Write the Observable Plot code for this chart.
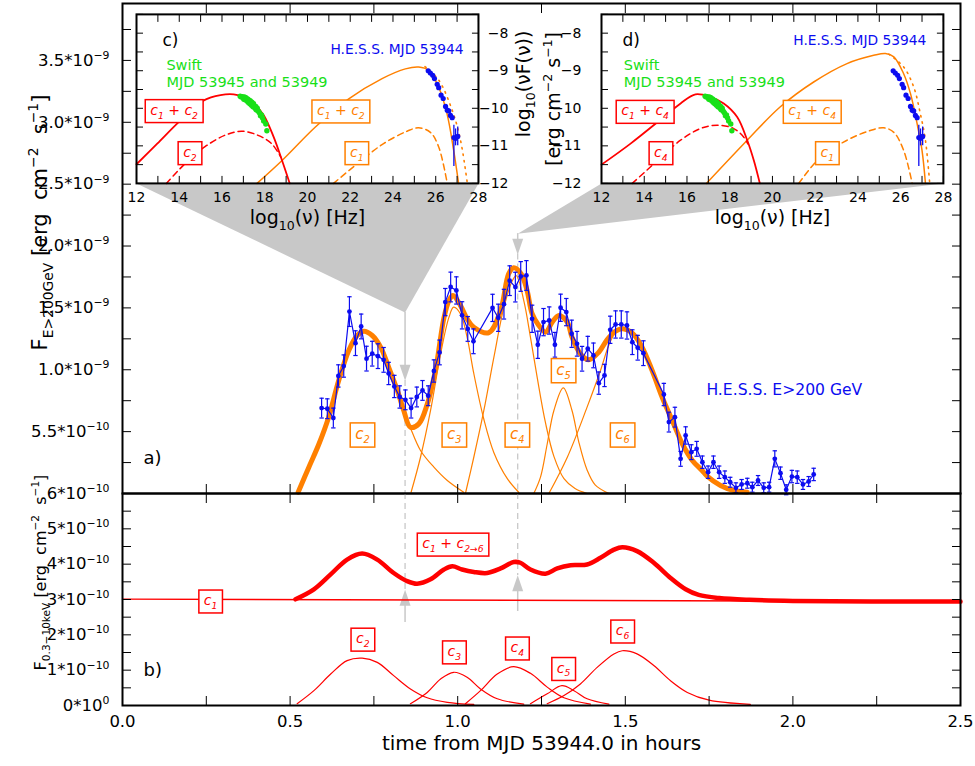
<!DOCTYPE html>
<html><head><meta charset="utf-8">
<script src="https://cdn.jsdelivr.net/npm/d3@7"></script>
<script src="https://cdn.jsdelivr.net/npm/@observablehq/plot@0.6"></script>
<style>
body{margin:0;background:#fff;}
#root{position:relative;width:975px;height:766px;overflow:hidden;background:#fff;}
</style></head><body><div id="root"></div>
<script>
// ---------------- colours & fonts ----------------
const BLUE = "#0c0cf0", ORANGE = "#ff8000", RED = "#ff0000", GREEN = "#18e018", GRAY = "#c8c8c8";
const STYLE = "background:transparent;overflow:visible;font-family:'DejaVu Sans',sans-serif;font-size:16px;color:black;";
const BOX = "\u2063"; // marks a label that gets a frame box
const SP = "\u00a0";

// ---------------- axis ticks ----------------
const timeTicks = [0, 0.25, 0.5, 0.75, 1, 1.25, 1.5, 1.75, 2, 2.25, 2.5];
const timeLabelValues = [0, 0.5, 1, 1.5, 2, 2.5];
const timeLabels = ["0.0", "0.5", "1.0", "1.5", "2.0", "2.5"];
const aFluxTicks = [0, 0.25e-9, 0.5e-9, 0.75e-9, 1e-9, 1.25e-9, 1.5e-9, 1.75e-9, 2e-9, 2.25e-9, 2.5e-9, 2.75e-9, 3e-9, 3.25e-9, 3.5e-9, 3.75e-9];
const aFluxLabelValues = [0.5e-9, 1e-9, 1.5e-9, 2e-9, 2.5e-9, 3e-9, 3.5e-9];
const aFluxLabels = ["5.5*10^{−10}", "1.0*10^{−9}", "1.5*10^{−9}", "2.0*10^{−9}", "2.5*10^{−9}", "3.0*10^{−9}", "3.5*10^{−9}"];
const bFluxTicks = [0, 0.5e-10, 1e-10, 1.5e-10, 2e-10, 2.5e-10, 3e-10, 3.5e-10, 4e-10, 4.5e-10, 5e-10, 5.5e-10, 6e-10];
const bFluxLabelValues = [0, 1e-10, 2e-10, 3e-10, 4e-10, 5e-10, 6e-10];
const bFluxLabels = ["0*10^{0}", "1*10^{−10}", "2*10^{−10}", "3*10^{−10}", "4*10^{−10}", "5*10^{−10}", "6*10^{−10}"];
const nuTicks = [12, 13, 14, 15, 16, 17, 18, 19, 20, 21, 22, 23, 24, 25, 26, 27, 28];
const nuLabelValues = [12, 14, 16, 18, 20, 22, 24, 26, 28];
const sedTicks = [-12, -11.5, -11, -10.5, -10, -9.5, -9, -8.5, -8, -7.5];
const sedLabelValues = [-12, -11, -10, -9, -8];
const sedLabels = ["−12", "−11", "−10", "−9", "−8"];

// ---------------- panel a: H.E.S.S. E>200 GeV light curve (hours, 1e-9 erg cm^-2 s^-1) ----------------
const hessTime = [0.594,0.611,0.629,0.644,0.660,0.677,0.695,0.712,0.728,0.745,0.762,
  0.779,0.794,0.811,0.827,0.844,0.861,0.878,0.895,0.912,
  0.929,0.946,0.963,0.979,0.996,1.013,1.030,1.047,
  1.104,1.121,1.138,1.155,1.172,1.188,1.205,1.222,1.239,1.256,1.273,1.290,1.307,1.324,
  1.340,1.356,1.371,1.388,1.405,1.421,1.438,1.455,1.471,1.488,1.505,1.521,1.537,1.554,
  1.615,1.630,1.648,1.665,1.680,1.697,1.713,1.730,1.747,1.763,1.780,1.797,1.813,1.830,1.847,1.864,1.879,1.896,1.913,1.929,1.946,1.963,1.980,1.997,2.013,2.030,2.047,2.062];
const hessFlux = [0.69,0.685,0.61,0.95,1.03,1.47,1.215,1.35,1.09,1.13,1.11,
  1.08,0.97,0.865,0.78,0.757,0.69,0.78,0.833,0.79,
  0.99,1.14,1.547,1.669,1.641,1.44,1.33,1.23,
  1.50,1.42,1.53,1.72,1.668,1.754,1.762,1.412,1.202,1.385,1.398,1.202,1.501,1.466,
  1.291,1.21,1.089,1.17,1.116,0.892,0.954,1.323,1.366,1.366,1.358,1.223,1.178,1.134,
  0.80,0.577,0.617,0.280,0.469,0.334,0.361,0.253,0.172,0.253,0.172,0.132,0.091,0.046,0.073,0.083,0.051,0.105,0.046,0.051,0.280,0.164,0.030,0.137,0.132,0.073,0.097,0.154];
const hessErr = [0.08,0.08,0.08,0.09,0.09,0.12,0.10,0.10,0.10,0.10,0.10,
  0.10,0.09,0.09,0.09,0.08,0.08,0.08,0.08,0.08,
  0.09,0.10,0.11,0.12,0.11,0.11,0.10,0.10,
  0.11,0.11,0.12,0.12,0.12,0.12,0.12,0.11,0.11,0.11,0.11,0.10,0.11,0.11,
  0.11,0.10,0.10,0.10,0.10,0.09,0.09,0.11,0.11,0.11,0.11,0.10,0.10,0.10,
  0.09,0.08,0.08,0.06,0.07,0.06,0.06,0.05,0.05,0.05,0.05,0.05,0.04,0.04,0.04,0.04,0.04,0.04,0.04,0.04,0.065,0.05,0.04,0.05,0.05,0.04,0.04,0.05];

// model: sum of components (thick) and components c2..c6 (thin), gamma rays
const gammaSum = [[0.524,0.01],[0.556,0.213],[0.586,0.40],[0.615,0.617],[0.645,0.913],[0.675,1.156],[0.700,1.277],[0.720,1.312],[0.745,1.277],[0.770,1.183],[0.794,1.021],[0.820,0.833],[0.839,0.671],[0.859,0.536],[0.884,0.563],[0.909,0.72],[0.934,1.0],[0.959,1.42],[0.974,1.56],[0.986,1.60],[1.008,1.52],[1.028,1.412],[1.048,1.344],[1.093,1.30],[1.128,1.479],[1.152,1.776],[1.167,1.825],[1.189,1.776],[1.207,1.641],[1.222,1.453],[1.242,1.358],[1.262,1.304],[1.282,1.385],[1.302,1.439],[1.327,1.385],[1.341,1.264],[1.366,1.129],[1.391,1.081],[1.421,1.142],[1.446,1.243],[1.471,1.312],[1.493,1.331],[1.521,1.296],[1.550,1.183],[1.580,0.994],[1.610,0.778],[1.640,0.590],[1.670,0.402],[1.700,0.267],[1.729,0.186],[1.744,0.14],[1.784,0.065],[1.824,0.024],[1.864,0.011]];
const gammaC2 = [[0.524,0.01],[0.556,0.213],[0.586,0.40],[0.615,0.617],[0.645,0.913],[0.675,1.156],[0.700,1.277],[0.720,1.312],[0.745,1.277],[0.770,1.183],[0.794,1.021],[0.820,0.833],[0.839,0.671],[0.859,0.53],[0.889,0.348],[0.929,0.213],[0.969,0.105],[1.018,0.01]];
const gammaC3 = [[0.861,0.01],[0.889,0.293],[0.919,0.671],[0.949,1.129],[0.974,1.425],[0.988,1.506],[1.008,1.453],[1.028,1.264],[1.048,0.97],[1.078,0.60],[1.108,0.33],[1.148,0.12],[1.182,0.01]];
const gammaC4 = [[1.023,0.0],[1.048,0.293],[1.078,0.671],[1.108,1.102],[1.138,1.506],[1.163,1.72],[1.175,1.76],[1.197,1.56],[1.217,1.264],[1.237,0.94],[1.262,0.57],[1.287,0.30],[1.317,0.12],[1.35,0.04],[1.386,0.0]];
const gammaC5 = [[1.227,0.0],[1.247,0.132],[1.267,0.40],[1.287,0.671],[1.315,0.854],[1.341,0.671],[1.361,0.42],[1.386,0.19],[1.41,0.07],[1.451,0.0]];
const gammaC6 = [[1.272,0.0],[1.327,0.293],[1.386,0.698],[1.426,0.994],[1.451,1.2],[1.471,1.30],[1.493,1.331],[1.521,1.296],[1.550,1.183],[1.580,0.994],[1.610,0.778],[1.640,0.590],[1.670,0.402],[1.700,0.267],[1.729,0.186],[1.744,0.14],[1.784,0.065],[1.824,0.024],[1.864,0.011]];

// ---------------- panel b: X-ray model (hours, 1e-10 erg cm^-2 s^-1) ----------------
const xraySum = [[0.516,3.006],[0.571,3.287],[0.621,3.71],[0.670,4.13],[0.715,4.30],[0.760,4.13],[0.809,3.75],[0.849,3.52],[0.879,3.445],[0.919,3.57],[0.959,3.85],[0.984,3.94],[1.013,3.85],[1.048,3.78],[1.088,3.75],[1.128,3.88],[1.167,4.06],[1.187,4.04],[1.217,3.85],[1.262,3.73],[1.297,3.88],[1.337,3.97],[1.386,3.99],[1.426,4.18],[1.466,4.41],[1.491,4.48],[1.535,4.37],[1.585,4.04],[1.635,3.61],[1.680,3.29],[1.719,3.13],[1.78,3.04],[1.87,2.99],[2.0,2.96],[2.5,2.94]];
const xrayC1 = [[0.0,3.01],[2.5,2.94]];
const xrayC2 = [[0.521,0.05],[0.571,0.42],[0.621,0.89],[0.670,1.27],[0.715,1.34],[0.760,1.22],[0.809,0.845],[0.859,0.47],[0.909,0.22],[0.969,0.09],[1.048,0.03]];
const xrayC3 = [[0.859,0.05],[0.909,0.37],[0.949,0.75],[0.988,0.94],[1.028,0.80],[1.068,0.47],[1.118,0.19],[1.197,0.04]];
const xrayC4 = [[1.023,0.05],[1.068,0.42],[1.118,0.89],[1.167,1.10],[1.217,0.91],[1.267,0.52],[1.317,0.22],[1.396,0.04]];
const xrayC5 = [[1.217,0.05],[1.267,0.33],[1.311,0.56],[1.347,0.42],[1.386,0.19],[1.451,0.04]];
const xrayC6 = [[1.267,0.05],[1.317,0.28],[1.366,0.61],[1.416,1.08],[1.466,1.46],[1.491,1.55],[1.535,1.46],[1.585,1.13],[1.635,0.70],[1.685,0.37],[1.75,0.15],[1.873,0.03]];

// labels (panel a in 1e-9, panel b in 1e-10)
const gammaLabels = [{t:0.716,F:0.48,text:"c_{2}"},{t:0.990,F:0.48,text:"c_{3}"},{t:1.178,F:0.48,text:"c_{4}"},{t:1.316,F:1.0,text:"c_{5}"},{t:1.492,F:0.48,text:"c_{6}"}];
const xrayLabels = [{t:0.263,F:2.97,text:"c_{1}"},{t:0.717,F:1.89,text:"c_{2}"},{t:0.990,F:1.53,text:"c_{3}"},{t:1.178,F:1.64,text:"c_{4}"},{t:1.316,F:1.06,text:"c_{5}"},{t:1.492,F:2.12,text:"c_{6}"},{t:0.986,F:4.58,text:"c_{1} + c_{2→6}"}];

// SED snapshot times and the zoom annotations (panel a: 1e-9, panel b: 1e-10)
const snapTimes = [0.843, 1.179];
const aArrowTop = [1.463, 2.10], aArrowHead = [0.975, 1.995], aArrowTip = [0.914, 1.935];
const bArrowTip = [3.28, 3.68], bArrowHead = [3.05, 3.46], bArrowFoot = [2.35, 2.66];
// inset frames in panel-a units: t0,t1 (hours), bottom/top (1e-9)
const insetFrames = [{t0:0.0418, t1:1.062, bottom:2.506, top:3.872}, {t0:1.429, t1:2.449, bottom:2.506, top:3.872}];

// ---------------- insets: SED log10(nu) vs log10(nu F nu) ----------------
const syncC = [[12.0,-11.49],[12.97,-10.94],[14.06,-10.32],[15.15,-9.79],[15.93,-9.65],[16.55,-9.63],[17.02,-9.70],[17.49,-9.87],[17.96,-10.19],[18.42,-10.77],[18.81,-11.39],[19.17,-12.0]];
const syncC2 = [[13.40,-12],[14.26,-11.48],[15.19,-11.03],[16.13,-10.72],[16.91,-10.61],[17.69,-10.72],[18.32,-10.94],[18.75,-11.3]];
const icC = [[17.64,-12],[18.81,-11.39],[20.37,-10.50],[21.93,-9.75],[23.49,-9.21],[24.58,-8.95],[25.2,-8.90],[25.67,-8.99],[26.14,-9.44],[26.53,-10.15],[26.84,-11.12],[27.07,-12]];
const icC1 = [[21.22,-12],[22.32,-11.48],[23.56,-10.94],[24.66,-10.61],[25.2,-10.52],[25.75,-10.64],[26.14,-11.03],[26.54,-12]];
const icDotC = [[25.5,-8.89],[26.14,-9.25],[26.77,-10.05],[27.16,-10.85],[27.48,-12]];
const syncD = [[12.0,-11.5],[13.36,-10.94],[14.92,-10.23],[15.70,-9.87],[16.40,-9.63],[17.10,-9.70],[17.72,-9.87],[18.35,-10.23],[18.82,-10.85],[19.13,-11.39],[19.41,-12]];
const syncD4 = [[13.44,-12],[14.45,-11.48],[15.70,-10.85],[16.63,-10.54],[17.41,-10.45],[18.19,-10.54],[18.66,-10.77],[18.85,-10.95]];
const icD = [[16.91,-12],[18.82,-10.85],[20.37,-9.96],[21.93,-9.30],[23.49,-8.81],[24.74,-8.59],[25.29,-8.54],[25.68,-8.63],[26.14,-9.08],[26.46,-9.61],[26.77,-10.41],[27.0,-11.12],[27.16,-12]];
const icD1 = [[21.23,-12],[22.25,-11.30],[23.49,-10.85],[24.58,-10.59],[25.21,-10.52],[25.68,-10.64],[26.14,-11.12],[26.54,-12]];
const icDotD = [[25.44,-8.56],[26.14,-8.90],[26.61,-9.43],[26.92,-10.14],[27.16,-10.85],[27.36,-12]];
const hessSED = [[25.65,-9.0],[25.75,-9.06],[25.86,-9.12],[25.94,-9.21],[26.07,-9.36],[26.14,-9.45],[26.25,-9.65],[26.35,-9.74],[26.46,-9.95],[26.54,-10.05],[26.61,-10.07],[26.69,-10.19],[26.77,-10.25]];
const hessSEDbars = [[26.85,-10.78,-11.55,-10.45],[26.93,-10.80,-11.0,-10.55],[27.03,-10.75,-11.0,-10.5]];
const swiftSED = [[16.85,-9.68],[16.90,-9.70],[16.95,-9.69],[17.00,-9.72],[17.02,-9.76],[17.05,-9.70],[17.08,-9.74],[17.10,-9.78],[17.12,-9.72],[17.15,-9.76],[17.18,-9.80],[17.20,-9.75],[17.22,-9.84],[17.25,-9.78],[17.28,-9.82],[17.30,-9.88],[17.32,-9.80],[17.35,-9.86],[17.38,-9.92],[17.40,-9.84],[17.42,-9.90],[17.45,-9.96],[17.48,-9.88],[17.50,-9.94],[17.55,-10.00],[17.58,-9.95],[17.60,-10.04],[17.65,-10.00],[17.70,-10.08],[17.75,-10.12],[17.80,-10.20],[17.85,-10.18],[17.90,-10.26],[17.95,-10.34],[18.05,-10.42],[18.10,-10.60]];
const insetC = {tag:"c)", tagDx:26, hessY:-8.45, hessX:27.30, swiftX:13.40,
  boxes:[{x:13.76,y:-10.05,text:"c_{1} + c_{2}",c:RED},{x:14.50,y:-11.17,text:"c_{2}",c:RED},{x:21.56,y:-10.06,text:"c_{1} + c_{2}",c:ORANGE},{x:22.31,y:-11.17,text:"c_{1}",c:ORANGE}]};
const insetD = {tag:"d)", tagDx:21, hessY:-8.19, hessX:27.20, swiftX:13.04,
  boxes:[{x:14.04,y:-10.07,text:"c_{1} + c_{4}",c:RED},{x:14.78,y:-11.17,text:"c_{4}",c:RED},{x:21.86,y:-10.07,text:"c_{1} + c_{4}",c:ORANGE},{x:22.57,y:-11.17,text:"c_{1}",c:ORANGE}]};

// ---------------- helpers ----------------
const NS = "http://www.w3.org/2000/svg";
const root = document.getElementById("root");
function rich(t, s) {
  const fs = parseFloat(getComputedStyle(t).fontSize) || 16;
  t.textContent = "";
  const re = /([_^])\{([^}]*)\}/g;
  let last = 0, m, cur = 0;
  const add = (txt, mode) => {
    if (!txt) return;
    const sp = document.createElementNS(NS, "tspan");
    const target = mode === "_" ? 0.28 * fs : mode === "^" ? -0.42 * fs : 0;
    if (target !== cur) { sp.setAttribute("dy", target - cur); cur = target; }
    if (mode) sp.setAttribute("font-size", 0.66 * fs);
    sp.textContent = txt;
    t.appendChild(sp);
  };
  while ((m = re.exec(s))) { add(s.slice(last, m.index), ""); add(m[2], m[1]); last = re.lastIndex; }
  add(s.slice(last), "");
}
function addBox(t) {
  const b = t.getBBox();
  const r = document.createElementNS(NS, "rect");
  r.setAttribute("x", b.x - 5); r.setAttribute("y", b.y - 2);
  r.setAttribute("width", b.width + 10); r.setAttribute("height", b.height + 4);
  r.setAttribute("fill", "white");
  r.setAttribute("stroke", getComputedStyle(t).fill);
  r.setAttribute("stroke-width", 1.5);
  const tr = t.getAttribute("transform"); if (tr) r.setAttribute("transform", tr);
  t.parentNode.insertBefore(r, t);
}
function place(svg, left, top) {
  svg.style.position = "absolute";
  svg.style.left = left + "px";
  svg.style.top = top + "px";
  root.appendChild(svg);
  for (const t of Array.from(svg.querySelectorAll("text"))) {
    let s = t.textContent;
    const boxed = s.includes(BOX);
    s = s.split(BOX).join("");
    if (/[_^]\{/.test(s)) rich(t, s); else if (boxed) t.textContent = s;
    if (boxed) addBox(t);
  }
}
function ticks(xt, yt, len = 8) {
  return [
    Plot.axisX({anchor: "bottom", ticks: xt, tickSize: -len, fill: "none", label: null}),
    Plot.axisX({anchor: "top", ticks: xt, tickSize: -len, fill: "none", label: null}),
    Plot.axisY({anchor: "left", ticks: yt, tickSize: -len, fill: "none", label: null}),
    Plot.axisY({anchor: "right", ticks: yt, tickSize: -len, fill: "none", label: null})
  ];
}
const arrowDown = {draw(c) { c.moveTo(0, 8); c.lineTo(5.5, -8); c.lineTo(-5.5, -8); c.closePath(); }};
const arrowUp = {draw(c) { c.moveTo(0, -8); c.lineTo(5.5, 8); c.lineTo(-5.5, 8); c.closePath(); }};
const cap = {draw(c) { c.moveTo(-2.2, 0); c.lineTo(2.2, 0); }};
const curveLine = (arr, k, o) => Plot.line(arr, {x: d => d[0], y: d => d[1] * k, curve: "catmull-rom", ...o});

// ---------------- panel a ----------------
const hess = hessTime.map((t, i) => ({t, F: hessFlux[i] * 1e-9, e: hessErr[i] * 1e-9}));
const snapsA = snapTimes.map((t, i) => ({t, top: aArrowTop[i] * 1e-9, head: aArrowHead[i] * 1e-9, tip: aArrowTip[i] * 1e-9}));
const funnelPolys = insetFrames.map((f, i) => [[f.t0, f.bottom], [f.t1, f.bottom], [snapTimes[i], aArrowTop[i]]]);

const panelA = Plot.plot({
  width: 975, height: 500, marginLeft: 122, marginRight: 15, marginTop: 3, marginBottom: 7,
  x: {domain: [0, 2.5]}, y: {domain: [0, 3.96e-9]},
  style: STYLE,
  marks: [
    ...funnelPolys.map(p => Plot.line(p, {x: d => d[0], y: d => d[1] * 1e-9, fill: GRAY, stroke: "none", curve: "linear-closed"})),
    Plot.ruleX(snapsA, {x: "t", y1: "top", y2: "head", stroke: GRAY, strokeWidth: 1.5}),
    Plot.ruleX(snapsA, {x: "t", y1: "tip", y2: 0, stroke: GRAY, strokeWidth: 1.3, strokeDasharray: "6,4"}),
    Plot.dot(snapsA, {x: "t", y: "head", symbol: arrowDown, fill: GRAY, stroke: "none"}),
    ...[gammaC2, gammaC3, gammaC4, gammaC5, gammaC6].map(c => curveLine(c, 1e-9, {stroke: ORANGE, strokeWidth: 1.2})),
    curveLine(gammaSum, 1e-9, {stroke: ORANGE, strokeWidth: 5}),
    Plot.ruleX(hess, {x: "t", y1: d => d.F - d.e, y2: d => d.F + d.e, stroke: BLUE, strokeWidth: 1.2}),
    Plot.dot(hess, {x: "t", y: d => d.F - d.e, symbol: cap, stroke: BLUE, strokeWidth: 1.2}),
    Plot.dot(hess, {x: "t", y: d => d.F + d.e, symbol: cap, stroke: BLUE, strokeWidth: 1.2}),
    Plot.line(hess, {x: "t", y: "F", stroke: BLUE, strokeWidth: 1.2}),
    Plot.dot(hess, {x: "t", y: "F", r: 2.4, fill: BLUE}),
    Plot.text(gammaLabels, {x: "t", y: d => d.F * 1e-9, text: d => BOX + d.text, fill: ORANGE, fontSize: 15, fontStyle: "italic"}),
    Plot.text(["H.E.S.S. E>200 GeV"], {x: 1.742, y: 0.833e-9, text: d => d, fill: BLUE, fontSize: 15.6, textAnchor: "start"}),
    Plot.text(["a)"], {frameAnchor: "bottom-left", dx: 21, dy: -30, text: d => d, fontSize: 18, textAnchor: "start"}),
    Plot.text([`F_{E>200GeV}${SP}[erg${SP}${SP}cm^{−2}${SP}${SP}s^{−1}]`], {frameAnchor: "left", dx: -82, dy: -26, rotate: -90, textAnchor: "middle", text: d => d, fontSize: 21}),
    Plot.frame({stroke: "black", strokeWidth: 2}),
    ...ticks(timeTicks, aFluxTicks, 9),
    Plot.axisY({anchor: "left", ticks: aFluxLabelValues, tickFormat: d => aFluxLabels[aFluxLabelValues.indexOf(d)], tickSize: 0, tickPadding: 13, label: null, fontSize: 16.5})
  ]
});
place(panelA, 0, 0);

// ---------------- panel b ----------------
const snapsB = snapTimes.map((t, i) => ({t, tip: bArrowTip[i] * 1e-10, head: bArrowHead[i] * 1e-10, foot: bArrowFoot[i] * 1e-10}));
const panelB = Plot.plot({
  width: 975, height: 280, marginLeft: 122, marginRight: 15, marginTop: 7, marginBottom: 61,
  x: {domain: [0, 2.5]}, y: {domain: [0, 6e-10]},
  style: STYLE,
  marks: [
    Plot.ruleX(snapsB, {x: "t", y1: 6e-10, y2: "tip", stroke: GRAY, strokeWidth: 1.3, strokeDasharray: "6,4"}),
    Plot.ruleX(snapsB, {x: "t", y1: "head", y2: "foot", stroke: GRAY, strokeWidth: 1.5}),
    Plot.dot(snapsB, {x: "t", y: "head", symbol: arrowUp, fill: GRAY, stroke: "none"}),
    ...[xrayC2, xrayC3, xrayC4, xrayC5, xrayC6].map(c => curveLine(c, 1e-10, {stroke: RED, strokeWidth: 1.2})),
    Plot.line(xrayC1, {x: d => d[0], y: d => d[1] * 1e-10, stroke: RED, strokeWidth: 1.4}),
    curveLine(xraySum, 1e-10, {stroke: RED, strokeWidth: 4.5}),
    Plot.text(xrayLabels, {x: "t", y: d => d.F * 1e-10, text: d => BOX + d.text, fill: RED, fontSize: 14, fontStyle: "italic"}),
    Plot.text(["b)"], {frameAnchor: "bottom-left", dx: 21, dy: -30, text: d => d, fontSize: 18, textAnchor: "start"}),
    Plot.text([`F_{0.3−10keV}${SP}[erg${SP}${SP}cm^{−2}${SP}${SP}s^{−1}]`], {frameAnchor: "left", dx: -82, dy: -27, rotate: -90, textAnchor: "middle", text: d => d, fontSize: 16}),
    Plot.text(["time from MJD 53944.0 in hours"], {frameAnchor: "bottom", dy: 44, text: d => d, fontSize: 20}),
    Plot.frame({stroke: "black", strokeWidth: 2}),
    ...ticks(timeTicks, bFluxTicks, 9),
    Plot.axisY({anchor: "left", ticks: bFluxLabelValues, tickFormat: d => bFluxLabels[bFluxLabelValues.indexOf(d)], tickSize: 0, tickPadding: 13, label: null, fontSize: 16.5}),
    Plot.axisX({anchor: "bottom", ticks: timeLabelValues, tickFormat: d => timeLabels[timeLabelValues.indexOf(d)], tickSize: 0, tickPadding: 10, label: null, fontSize: 16.5})
  ]
});
place(panelB, 0, 486);

// ---------------- insets ----------------
const sx = panelA.scale("x"), sy = panelA.scale("y");
function inset(frame, cfg, curves, mL, mR, yAxis) {
  const x0 = sx.apply(frame.t0), x1 = sx.apply(frame.t1);
  const y0 = sy.apply(frame.top * 1e-9), y1 = sy.apply(frame.bottom * 1e-9);
  const mT = y0, mB = 52;
  const svg = Plot.plot({
    width: mL + (x1 - x0) + mR, height: mT + (y1 - y0) + mB,
    marginLeft: mL, marginRight: mR, marginTop: mT, marginBottom: mB,
    x: {domain: [12, 28]}, y: {domain: [-12, -7.5]},
    style: STYLE,
    marks: [
      Plot.frame({fill: "white", stroke: "none"}),
      curveLine(curves.icDash, 1, {stroke: ORANGE, strokeWidth: 1.5, strokeDasharray: "6,4"}),
      curveLine(curves.icDot, 1, {stroke: ORANGE, strokeWidth: 1.6, strokeDasharray: "1.5,5"}),
      curveLine(curves.ic, 1, {stroke: ORANGE, strokeWidth: 1.5}),
      curveLine(curves.syncDash, 1, {stroke: RED, strokeWidth: 1.5, strokeDasharray: "6,4"}),
      curveLine(curves.sync, 1, {stroke: RED, strokeWidth: 1.8}),
      Plot.dot(swiftSED, {x: d => d[0], y: d => d[1], r: 2.7, fill: GREEN}),
      Plot.ruleX(hessSEDbars, {x: d => d[0], y1: d => d[2], y2: d => d[3], stroke: BLUE, strokeWidth: 1.3}),
      Plot.dot(hessSED.concat(hessSEDbars.map(d => [d[0], d[1]])), {x: d => d[0], y: d => d[1], r: 2.6, fill: BLUE}),
      Plot.text(cfg.boxes, {x: "x", y: "y", text: d => BOX + d.text, fill: d => d.c, fontSize: 14, fontStyle: "italic"}),
      Plot.text([cfg.tag], {frameAnchor: "top-left", dx: cfg.tagDx, dy: 20, text: d => d, fontSize: 17, textAnchor: "start"}),
      Plot.text(["H.E.S.S. MJD 53944"], {x: cfg.hessX, y: cfg.hessY, text: d => d, fill: BLUE, fontSize: 13.8, textAnchor: "end"}),
      Plot.text(["Swift"], {x: cfg.swiftX, y: -8.85, text: d => d, fill: GREEN, fontSize: 14.5, textAnchor: "start"}),
      Plot.text(["MJD 53945 and 53949"], {x: cfg.swiftX, y: -9.30, text: d => d, fill: GREEN, fontSize: 14.5, textAnchor: "start"}),
      Plot.frame({stroke: "black", strokeWidth: 2}),
      ...ticks(nuTicks, sedTicks, 7),
      Plot.axisX({anchor: "bottom", ticks: nuLabelValues, tickSize: 0, tickPadding: 9, label: null, fontSize: 14}),
      Plot.text(["log_{10}(ν) [Hz]"], {frameAnchor: "bottom", dy: 41, text: d => d, fontSize: 19}),
      ...yAxis
    ]
  });
  place(svg, x0 - mL, 0);
}
inset(insetFrames[0], insetC, {sync: syncC, syncDash: syncC2, ic: icC, icDash: icC1, icDot: icDotC}, 40, 100, [
  Plot.axisY({anchor: "right", ticks: sedLabelValues, tickFormat: d => sedLabels[sedLabelValues.indexOf(d)], tickSize: 0, tickPadding: 30, textAnchor: "end", label: null, fontSize: 14}),
  Plot.text(["log_{10}(νF(ν))"], {frameAnchor: "right", dx: 45, dy: -15, rotate: -90, textAnchor: "middle", text: d => d, fontSize: 19}),
  Plot.text(["[erg cm^{−2} s^{−1}]"], {frameAnchor: "right", dx: 75, dy: 0, rotate: -90, textAnchor: "middle", text: d => d, fontSize: 19})
]);
inset(insetFrames[1], insetD, {sync: syncD, syncDash: syncD4, ic: icD, icDash: icD1, icDot: icDotD}, 41, 20, [
  Plot.axisY({anchor: "left", ticks: sedLabelValues, tickFormat: d => sedLabels[sedLabelValues.indexOf(d)], tickSize: 0, tickPadding: 20, label: null, fontSize: 14})
]);
</script></body></html>
